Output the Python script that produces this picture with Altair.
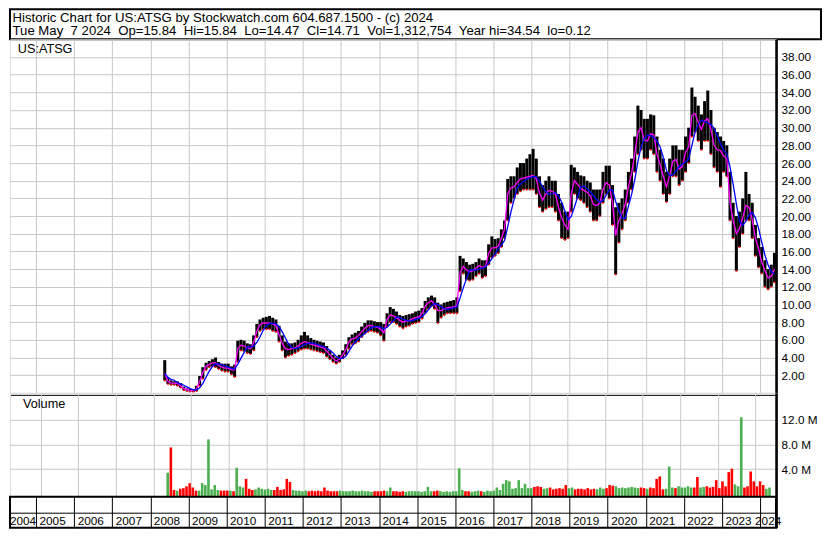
import altair as alt
import numpy as np
import pandas as pd

# ---------------- text ----------------
header_lines = [
    "Historic Chart for US:ATSG by Stockwatch.com 604.687.1500 - (c) 2024",
    "Tue May\u00a0 7 2024\u00a0 Op=15.84\u00a0 Hi=15.84\u00a0 Lo=14.47\u00a0 Cl=14.71\u00a0 Vol=1,312,754\u00a0 Year hi=34.54\u00a0 lo=0.12",
]
symbol_label = "US:ATSG"
volume_label = "Volume"

# ---------------- data (monthly, first month May 2008) ----------------
first_month = (2008, 5)

price_mid = [
    2.2, 1.3, 1.1, 1.1, 1.05, 0.8, 0.5, 0.35,
    0.3, 0.25, 0.45, 1.3, 2.3, 3.0, 3.2, 3.4, 3.4, 3.1, 2.9, 2.8,
    2.8, 2.6, 2.6, 5.0, 5.4, 5.3, 5.1, 5.0, 5.7, 7.0, 7.7, 7.9,
    7.9, 7.9, 7.8, 7.6, 6.6, 5.6, 5.0, 4.9, 5.0, 5.1, 5.3, 5.6,
    5.8, 5.7, 5.5, 5.4, 5.3, 5.2, 5.1, 4.7, 4.3, 3.9, 3.6, 3.8,
    4.3, 4.9, 5.8, 6.1, 6.2, 6.5, 6.9, 7.3, 7.6, 7.6, 7.5, 7.4,
    7.2, 6.8, 8.3, 8.8, 8.7, 8.5, 8.2, 8.0, 8.1, 8.2, 8.4, 8.5,
    8.6, 9.0, 9.8, 10.2, 10.4, 10.0, 9.3, 9.3, 9.5, 9.6, 9.7, 9.7,
    9.9, 13.6, 14.3, 13.9, 13.7, 13.8, 14.1, 14.4, 14.2, 14.3, 15.8, 16.4,
    16.4, 16.6, 17.5, 18.5, 22.5, 23.2, 23.3, 23.8, 24.2, 24.3, 24.4, 24.5,
    24.6, 24.2, 22.6, 21.8, 22.5, 22.9, 22.8, 22.5, 21.0, 19.8, 19.0, 18.5,
    22.5, 24.0, 23.6, 23.1, 22.9, 22.7, 22.3, 21.3, 21.2, 21.5, 23.0, 23.8,
    23.5, 21.5, 17.8, 19.5, 20.3, 21.3, 23.3, 24.8, 27.0, 29.5, 30.0, 28.6,
    28.5, 29.3, 29.2, 27.0, 25.8, 24.5, 23.3, 24.6, 26.2, 26.4, 25.3, 25.6,
    27.2, 27.8, 31.4, 31.6, 30.6, 29.8, 30.8, 31.0, 29.8, 28.0, 27.5, 27.4,
    26.8, 26.5, 21.5, 19.5, 18.0, 18.6, 19.8, 21.2, 21.0, 19.6, 17.5, 16.3,
    14.8, 13.8, 13.0, 13.2, 14.0,
]
price_lo = [
    1.4, 1.0, 0.9, 0.9, 0.8, 0.6, 0.3, 0.2,
    0.15, 0.12, 0.2, 0.8, 1.6, 2.6, 2.9, 3.0, 2.9, 2.7, 2.5, 2.4,
    2.4, 2.1, 1.8, 3.5, 4.8, 4.7, 4.5, 4.4, 4.8, 6.3, 7.0, 7.2,
    7.2, 7.2, 7.0, 6.9, 5.8, 4.8, 4.0, 4.2, 4.3, 4.5, 4.7, 4.9,
    5.0, 5.0, 4.9, 4.8, 4.7, 4.6, 4.5, 4.1, 3.8, 3.5, 3.3, 3.5,
    3.9, 4.3, 5.0, 5.5, 5.6, 5.8, 6.3, 6.7, 6.9, 7.0, 6.9, 6.8,
    6.5, 5.9, 7.5, 8.0, 8.0, 7.8, 7.5, 7.3, 7.5, 7.6, 7.8, 7.9,
    8.0, 8.4, 9.0, 9.5, 9.8, 9.5, 7.9, 8.5, 8.8, 9.0, 9.0, 9.0,
    9.0, 11.5, 13.5, 12.8, 12.7, 12.8, 13.2, 13.5, 13.0, 13.2, 14.5, 15.3,
    15.5, 15.8, 16.5, 17.5, 19.5, 21.5, 22.0, 22.5, 22.8, 23.0, 23.0, 23.0,
    23.0, 22.5, 21.0, 20.5, 20.8, 21.0, 21.0, 20.5, 19.5, 17.5, 17.3, 17.5,
    20.5, 22.5, 22.0, 21.8, 21.5, 21.0, 20.5, 19.5, 19.5, 20.0, 21.5, 22.5,
    22.0, 19.0, 13.4, 17.0, 18.5, 19.5, 21.5, 23.0, 25.0, 27.0, 27.5, 26.5,
    26.5, 27.5, 27.0, 25.0, 24.0, 22.5, 21.6, 22.5, 24.5, 24.5, 23.5, 24.0,
    25.0, 26.0, 29.0, 29.5, 28.5, 27.5, 28.5, 28.5, 27.0, 25.5, 25.0, 23.3,
    25.0, 24.5, 19.5, 17.5, 13.8, 16.5, 18.0, 19.5, 19.5, 17.5, 15.5, 14.2,
    13.5, 12.0, 11.7, 12.0, 12.5,
]
price_hi = [
    3.7, 1.8, 1.4, 1.3, 1.3, 1.1, 0.7, 0.5,
    0.45, 0.4, 0.8, 1.9, 2.9, 3.4, 3.6, 3.8, 4.0, 3.5, 3.3, 3.3,
    3.3, 3.0, 3.2, 5.9, 6.0, 5.9, 5.6, 5.5, 6.5, 7.8, 8.3, 8.5,
    8.6, 8.7, 8.5, 8.3, 7.6, 6.5, 5.8, 5.6, 5.6, 5.7, 6.0, 6.5,
    6.9, 6.5, 6.2, 6.0, 5.9, 5.8, 5.7, 5.3, 4.8, 4.3, 4.0, 4.3,
    4.8, 5.5, 6.3, 6.6, 6.8, 7.0, 7.5, 7.9, 8.2, 8.2, 8.1, 8.0,
    8.0, 7.8, 9.0, 9.7, 9.5, 9.2, 8.8, 8.7, 8.8, 8.9, 9.0, 9.2,
    9.3, 9.6, 10.4, 10.8, 11.0, 10.8, 10.2, 10.0, 10.2, 10.3, 10.4, 10.5,
    10.8, 15.5, 15.2, 14.8, 14.5, 14.6, 14.8, 15.2, 15.0, 15.0, 16.8, 17.7,
    17.4, 17.5, 18.5, 19.5, 24.2, 24.5, 24.5, 25.5, 26.0, 26.0, 26.5, 27.0,
    27.6, 26.5, 24.5, 23.5, 24.0, 24.5, 24.0, 24.0, 22.5, 21.5, 20.5, 20.5,
    25.8, 25.5, 25.0, 24.6, 24.5, 24.0, 23.8, 23.0, 23.0, 23.0, 25.0, 25.7,
    25.7, 23.5, 21.0, 21.5, 22.0, 23.0, 25.0, 26.5, 29.0, 32.5, 32.0, 31.0,
    31.0, 31.5, 31.4, 29.0, 27.5, 26.5, 25.0, 26.5, 28.0, 28.0, 27.5, 27.5,
    29.0, 30.0, 34.54, 33.5, 32.5, 31.5, 33.0, 34.2, 32.0, 30.0, 29.5, 29.0,
    28.5, 28.0, 25.0, 21.5, 20.0, 20.5, 22.0, 25.0, 22.5, 21.5, 19.0, 17.5,
    16.5, 15.0, 14.0, 14.5, 15.84,
]
volume_m = [
    3.4, 7.5, 0.6, 0.5, 0.8, 0.9, 1.2, 1.7,
    1.0, 0.5, 0.5, 1.7, 1.4, 8.8, 0.7, 1.4, 0.6, 0.5, 0.5, 0.5,
    0.5, 0.4, 4.2, 1.2, 1.0, 2.4, 0.8, 0.6, 0.7, 1.0, 0.8, 0.7,
    0.8, 0.6, 0.6, 1.1, 0.6, 0.7, 2.4, 1.9, 0.6, 0.5, 0.5, 0.4,
    0.5, 0.4, 0.5, 0.4, 0.5, 0.4, 1.0, 0.5, 0.4, 0.4, 0.4, 0.5,
    0.4, 0.4, 0.4, 0.5, 0.4, 0.4, 0.5, 0.4, 0.4, 0.3, 0.4, 0.4,
    0.4, 0.5, 0.4, 1.0, 0.4, 0.4, 0.3, 0.4, 0.3, 0.4, 0.4, 0.4,
    0.4, 0.3, 0.4, 1.1, 0.4, 0.4, 0.5, 0.4, 0.3, 0.4, 0.3, 0.4,
    0.4, 4.1, 0.6, 0.4, 0.4, 0.3, 0.4, 0.5, 0.4, 0.3, 0.5, 0.4,
    0.5, 1.0, 0.6, 1.6, 2.2, 2.0, 0.8, 0.9, 2.2, 0.9, 1.6, 0.9,
    0.9, 1.1, 1.2, 1.1, 0.8, 0.9, 1.0, 0.7, 0.8, 0.9, 0.8, 1.4,
    0.9, 1.0, 0.7, 0.8, 0.8, 0.7, 0.9, 0.7, 0.8, 0.7, 1.0, 0.8,
    0.9, 1.4, 1.3, 1.2, 0.9, 1.0, 0.9, 1.0, 1.1, 1.0, 0.9, 1.0,
    0.9, 0.8, 1.0, 0.9, 2.4, 2.8, 0.7, 0.8, 4.4, 1.0, 0.9, 1.2,
    1.0, 1.0, 1.2, 1.0, 1.0, 2.7, 1.0, 1.1, 1.2, 1.0, 1.1, 2.2,
    0.9, 2.0, 1.2, 3.5, 4.05, 1.5, 1.2, 12.4, 1.0, 1.2, 3.6, 2.0,
    1.2, 2.0, 1.4, 0.8, 1.0,
]
years = list(range(2004, 2025))
price_ticks = list(range(2, 39, 2))
volume_ticks = [4, 8, 12]

# ---------------- build table ----------------
t_vals = []
yy, mm = first_month
for _ in range(len(price_mid)):
    t_vals.append(yy + (mm - 0.5) / 12)
    mm += 1
    if mm > 12:
        mm, yy = 1, yy + 1
df = pd.DataFrame({"t": t_vals, "mid": price_mid, "lo": price_lo,
                   "hi": price_hi, "vol": volume_m})
df["dir"] = np.where(df["mid"].diff().fillna(0) >= 0, "up", "down")

# ---------------- layout ----------------
FONT = "Liberation Sans"
GRID = "#c8c8c8"
W = 767
HDR_W, HDR_H = 812, 30
P_H, V_H, Y_H = 354, 104, 31
T_DOMAIN = [2004.314, 2024.417]
P_DOMAIN = [0, 40.0]
V_DOMAIN = [-0.49, 16.35]

xscale = alt.Scale(domain=T_DOMAIN, nice=False, zero=False)

# header
hdr_df = pd.DataFrame({"x": [0.0], "y": [1.0], "txt": ["\n".join(header_lines)]})
header = alt.Chart(hdr_df).mark_text(
    align="left", baseline="alphabetic", lineBreak="\n", lineHeight=13.6,
    dx=2.5, dy=12.3, fontSize=13.2, font=FONT, color="black"
).encode(
    x=alt.X("x:Q", scale=alt.Scale(domain=[0, 1]), axis=None),
    y=alt.Y("y:Q", scale=alt.Scale(domain=[0, 1]), axis=None),
    text="txt:N",
).properties(width=HDR_W, height=HDR_H,
             view=alt.ViewBackground(stroke="black", strokeWidth=2))

# price panel
px = alt.X("t:Q", scale=xscale, axis=alt.Axis(
    values=years[1:], tickCount=60, grid=True, gridColor=GRID, gridOpacity=1,
    gridWidth=1, labels=False, ticks=False, domain=True, domainColor="black",
    domainWidth=1, offset=2, title=None))
pscale = alt.Scale(domain=P_DOMAIN, nice=False, zero=False)
py_axis = alt.Axis(orient="right", values=price_ticks, tickCount=60, format=".2f",
                   grid=True, gridColor=GRID, gridOpacity=1, gridWidth=1, ticks=False,
                   domainColor="black", domainWidth=2.6, labelPadding=5,
                   labelFont=FONT, labelFontSize=11.8, labelColor="black",
                   labelOverlap=False, title=None, labelFlush=False)
base = alt.Chart(df)
bars = base.mark_rule(color="black", strokeWidth=3.0).encode(
    x=px, y=alt.Y("lo:Q", scale=pscale, axis=py_axis), y2="hi:Q")
dots = base.mark_square(color="red", size=3, opacity=1).encode(x="t:Q", y="lo:Q")
mag = base.mark_line(color="#ff00ff", strokeWidth=1.3).encode(x="t:Q", y="mid:Q")
blue = base.transform_window(
    ma="mean(mid)", frame=[-3, 0], sort=[alt.SortField("t")]
).mark_line(color="#0000ff", strokeWidth=1.3).encode(x="t:Q", y="ma:Q")
sym_df = pd.DataFrame({"t": [T_DOMAIN[0]], "lo": [P_DOMAIN[1]], "txt": [symbol_label]})
sym = alt.Chart(sym_df).mark_text(align="left", baseline="alphabetic", dx=7.8, dy=14,
                                  fontSize=12.7, font=FONT, color="black").encode(
    x="t:Q", y="lo:Q", text="txt:N")
price = alt.layer(bars, dots, mag, blue, sym).properties(width=W, height=P_H)

# volume panel
vx = alt.X("t:Q", scale=xscale, axis=alt.Axis(
    values=years[1:], tickCount=60, grid=True, gridColor=GRID, gridOpacity=1,
    labels=False, ticks=False, domain=False, title=None))
vscale = alt.Scale(domain=V_DOMAIN, nice=False, zero=False)
vy_axis = alt.Axis(orient="right", values=volume_ticks, tickCount=60,
                   labelExpr="format(datum.value, '.1f') + ' M'", grid=True,
                   gridColor=GRID, gridOpacity=1, ticks=False, domainColor="black",
                   domainWidth=2.6, labelPadding=5, labelFont=FONT, labelFontSize=11.8,
                   labelColor="black", labelOverlap=False, title=None, labelFlush=False)
vbars = alt.Chart(df).mark_bar(size=2.6).encode(
    x=vx, y=alt.Y("vol:Q", scale=vscale, axis=vy_axis), y2=alt.datum(V_DOMAIN[0]),
    color=alt.Color("dir:N", scale=alt.Scale(domain=["up", "down"],
                                             range=["#4caf50", "#ff0000"]), legend=None))
vlab_df = pd.DataFrame({"t": [T_DOMAIN[0]], "vol": [V_DOMAIN[1]], "txt": [volume_label]})
vlab = alt.Chart(vlab_df).mark_text(align="left", baseline="alphabetic", dx=8, dy=15,
                                    fontSize=12.7, font=FONT, color="black").encode(
    x="t:Q", y="vol:Q", text="txt:N")
volume = alt.layer(vbars, vlab).properties(width=W, height=V_H)

# year axis panel
yr_df = pd.DataFrame({"t": years, "row": 0.0, "txt": [str(y) for y in years]})
yx = alt.X("t:Q", scale=xscale, axis=alt.Axis(
    values=years[1:], tickCount=60, grid=True, gridColor="black", gridOpacity=1,
    labels=False, ticks=False, domain=False, title=None))
yy_enc = alt.Y("row:Q", scale=alt.Scale(domain=[0, 1], nice=False, zero=False),
               axis=alt.Axis(orient="right", values=[0.47], grid=True, gridColor="black",
                             gridOpacity=1, labels=False, ticks=False, domainColor="black",
                             domainWidth=2.6, title=None))
txt_kw = dict(baseline="alphabetic", dy=-3, fontSize=11.8, font=FONT, color="black")
lab_mid = alt.Chart(yr_df).transform_filter(
    "datum.t > 2004 && datum.t < 2024").mark_text(align="left", dx=3.4, **txt_kw).encode(
    x=yx, y=yy_enc, text="txt:N")
lab_first = alt.Chart(yr_df).transform_filter("datum.t == 2004").transform_calculate(
    t_end="datum.t + 1").mark_text(align="right", dx=0, **txt_kw).encode(
    x="t_end:Q", y="row:Q", text="txt:N")
lab_last = alt.Chart(yr_df).transform_filter("datum.t == 2024").mark_text(
    align="left", dx=-5.1, **txt_kw).encode(x="t:Q", y="row:Q", text="txt:N")
yearsp = alt.layer(lab_mid, lab_first, lab_last).properties(
    width=W, height=Y_H, view=alt.ViewBackground(stroke="black", strokeWidth=2))

chart = alt.vconcat(header, price, volume, yearsp, spacing=0, bounds="flush").properties(
    padding=0
).configure_view(stroke="black", strokeWidth=1).configure(font=FONT)

chart.save("out.html", embed_options={"renderer": "svg", "actions": False})
